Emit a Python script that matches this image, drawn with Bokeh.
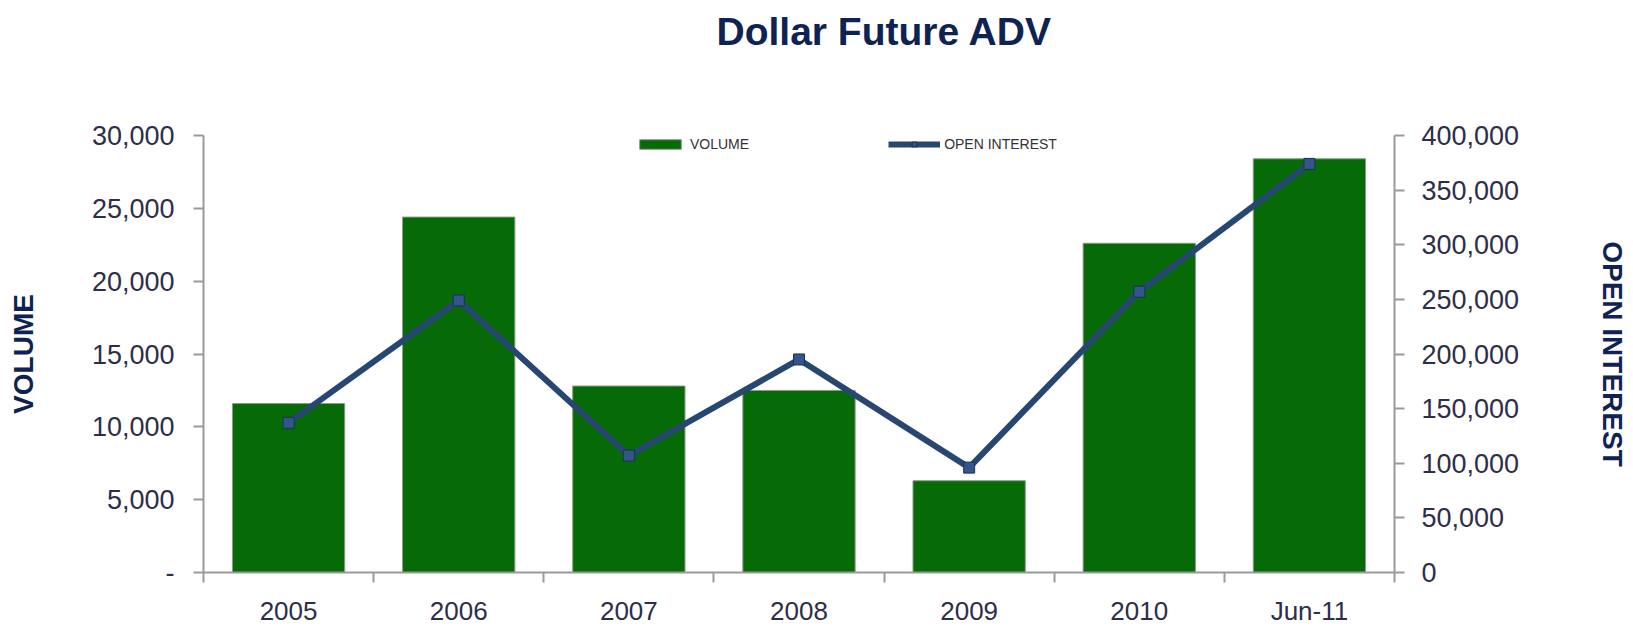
from bokeh.plotting import figure
from bokeh.models import (Range1d, LinearAxis, FixedTicker, NumeralTickFormatter,
                          Legend, LegendItem, Title)
from bokeh.embed import file_html
from bokeh.resources import INLINE
import numpy as np

categories = ["2005", "2006", "2007", "2008", "2009", "2010", "Jun-11"]
volume = [11600, 24400, 12800, 12500, 6300, 22600, 28400]
open_interest = [137000, 249000, 107000, 195000, 96000, 257000, 374000]
volume_ticks = [0, 5000, 10000, 15000, 20000, 25000, 30000]
oi_ticks = [0, 50000, 100000, 150000, 200000, 250000, 300000, 350000, 400000]

FONT = "Liberation Sans"
NAVY = "#0f2352"
TICK_COL = "#2e2e48"
AXIS_COL = "#9a9a9a"

x = np.arange(len(categories)) + 0.5
boundaries = list(range(len(categories) + 1))

p = figure(width=1631, height=628, output_backend="svg", toolbar_location=None,
           x_range=Range1d(0, len(categories)), y_range=Range1d(0, 30000),
           min_border_left=203, min_border_right=0, min_border_top=135,
           min_border_bottom=0)
p.extra_y_ranges = {"oi": Range1d(0, 400000)}
p.grid.visible = False
p.outline_line_color = None
p.background_fill_color = "white"
p.title.text = ""

# spacer (closest to the frame) and the real title above it
spacer = Title(text=" ", text_font_size="1px", standoff=80)
p.add_layout(spacer, "above")
title = Title(text="Dollar Future ADV", text_font=FONT, text_font_size="39px",
              text_font_style="bold", text_color=NAVY, align="left",
              offset=513, standoff=0)
p.add_layout(title, "above")

# x axis: ticks at category boundaries, labels at centres
xa = p.xaxis[0]
xa.ticker = FixedTicker(ticks=list(x), minor_ticks=boundaries)
xa.major_label_overrides = {float(xi): c for xi, c in zip(x, categories)}
xa.major_tick_in = 0
xa.major_tick_out = 0
xa.minor_tick_in = 0
xa.minor_tick_out = 10
xa.minor_tick_line_color = AXIS_COL
xa.minor_tick_line_width = 2
xa.axis_line_color = AXIS_COL
xa.axis_line_width = 2
xa.major_label_text_font = FONT
xa.major_label_text_font_size = "26px"
xa.major_label_text_color = TICK_COL
xa.major_label_standoff = 13

# left axis
ya = p.yaxis[0]
ya.ticker = FixedTicker(ticks=volume_ticks)
ya.formatter = NumeralTickFormatter(format="0,0")
ya.major_label_overrides = {0: "-"}
ya.minor_tick_line_color = None
ya.major_tick_in = 0
ya.major_tick_out = 10
ya.major_tick_line_color = AXIS_COL
ya.major_tick_line_width = 2
ya.axis_line_color = AXIS_COL
ya.axis_line_width = 2
ya.major_label_text_font = FONT
ya.major_label_text_font_size = "27px"
ya.major_label_text_color = TICK_COL
ya.major_label_standoff = 19
ya.axis_label = "VOLUME"
ya.axis_label_text_font = FONT
ya.axis_label_text_font_size = "28px"
ya.axis_label_text_font_style = "bold"
ya.axis_label_text_color = NAVY
ya.axis_label_standoff = 50

# right axis
ra = LinearAxis(y_range_name="oi", ticker=FixedTicker(ticks=oi_ticks),
                formatter=NumeralTickFormatter(format="0,0"))
ra.minor_tick_line_color = None
ra.major_tick_in = 0
ra.major_tick_out = 10
ra.major_tick_line_color = AXIS_COL
ra.major_tick_line_width = 2
ra.axis_line_color = AXIS_COL
ra.axis_line_width = 2
ra.major_label_text_font = FONT
ra.major_label_text_font_size = "27px"
ra.major_label_text_color = TICK_COL
ra.major_label_standoff = 17
ra.axis_label = "OPEN INTEREST"
ra.axis_label_text_font = FONT
ra.axis_label_text_font_size = "28px"
ra.axis_label_text_font_style = "bold"
ra.axis_label_text_color = NAVY
ra.axis_label_standoff = 75
p.add_layout(ra, "right")

# bars
bars = p.vbar(x=x, top=volume, bottom=0, width=0.66,
              fill_color="#066a06", line_color="#8c9a8c", line_width=1)

# open interest line
ln = p.line(x, open_interest, y_range_name="oi", line_color="#274772",
            line_width=6, line_join="round")
sc = p.scatter(x, open_interest, y_range_name="oi", marker="square", size=11,
               fill_color="#34558a", line_color="#1c3157", line_width=1)

legend = Legend(items=[LegendItem(label="VOLUME", renderers=[bars]),
                       LegendItem(label="OPEN INTEREST", renderers=[ln, sc])],
                orientation="horizontal", location=(431, 420),
                padding=0, margin=0, spacing=139,
                glyph_width=52, glyph_height=12, label_height=14,
                label_standoff=4,
                label_text_font=FONT, label_text_font_size="14px",
                label_text_color="#333333",
                border_line_color=None, background_fill_alpha=0)
p.add_layout(legend)

open("out.html", "w").write(file_html(p, INLINE))
